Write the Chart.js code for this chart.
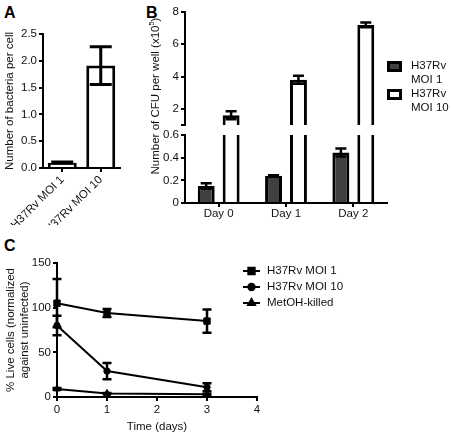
<!DOCTYPE html>
<html>
<head>
<meta charset="utf-8">
<script src="https://cdn.jsdelivr.net/npm/chart.js@4.4.1/dist/chart.umd.min.js"></script>
<style>
  html, body { margin: 0; padding: 0; background: #fff; }
  body { width: 451px; height: 435px; position: relative; overflow: hidden; font-family: "Liberation Sans", Arial, sans-serif; }
  canvas { position: absolute; }
  .letter { position: absolute; font-weight: bold; font-size: 16px; line-height: 16px; color: #000; }
</style>
</head>
<body>
<div class="letter" style="left:4px;top:5px">A</div>
<div class="letter" style="left:146px;top:5px">B</div>
<div class="letter" style="left:4px;top:238px">C</div>
<canvas id="chartA" width="135" height="225" style="left:0;top:0"></canvas>
<canvas id="chartBUpper" width="311" height="225" style="left:140px;top:0"></canvas>
<canvas id="chartBLower" width="311" height="225" style="left:140px;top:0"></canvas>
<canvas id="chartC" width="451" height="200" style="left:0;top:235px"></canvas>
<script>
// panel A
const aLabels = ["H37Rv MOI 1", "H37Rv MOI 10"];
const aMeans = [0.1, 1.91];
const aErrors = [0.01, 0.35];
const aTicks = [0, 0.5, 1, 1.5, 2, 2.5];
const aTickLabels = ["0.0", "0.5", "1.0", "1.5", "2.0", "2.5"];

// panel B (broken y axis)
const bDays = ["Day 0", "Day 1", "Day 2"];
const bSeries = ["H37Rv MOI 1", "H37Rv MOI 10"];
const bMoi1 = [0.15, 0.24, 0.445];
const bMoi1Err = [0.025, 0.005, 0.035];
const bMoi10 = [1.6, 3.8, 7.2];
const bMoi10Err = [0.25, 0.25, 0.15];
const bUpperTicks = [1, 2, 4, 6, 8];
const bUpperLabels = ["", "2", "4", "6", "8"];
const bLowerTicks = [0, 0.2, 0.4, 0.6];
const bLowerLabels = ["0", "0.2", "0.4", "0.6"];

// panel C
const cDays = [0, 1, 3];
const cSeries = ["H37Rv MOI 1", "H37Rv MOI 10", "MetOH-killed"];
const cMoi1 = [105, 94, 85];
const cMoi1Err = [27, 4.5, 13];
const cMoi10 = [80, 29, 11];
const cMoi10Err = [11, 9, 4.5];
const cKilled = [9, 4, 3];
const cKilledErr = [1, 0.5, 0.5];
const cXTicks = [0, 1, 2, 3, 4];
const cYTicks = [0, 50, 100, 150];

const fontFamily = "'Liberation Sans', Arial, sans-serif";
const fontSize = 11.5;
const ink = "#111";
const dark = "#404040";

Chart.defaults.font.family = fontFamily;
Chart.defaults.font.size = fontSize;
Chart.defaults.color = ink;
Chart.defaults.animation = false;
Chart.defaults.responsive = false;
Chart.defaults.plugins.legend.display = false;
Chart.defaults.plugins.tooltip.enabled = false;

const errorBars = {
  id: "errorBars",
  afterDatasetsDraw(chart, args, opts) {
    const ctx = chart.ctx;
    chart.data.datasets.forEach((ds, i) => {
      if (!ds.errors) return;
      const meta = chart.getDatasetMeta(i);
      const yScale = chart.scales[meta.yAxisID];
      ctx.save();
      ctx.strokeStyle = "#000";
      ctx.lineWidth = opts.width;
      meta.data.forEach((el, j) => {
        const raw = ds.data[j];
        const value = typeof raw === "object" ? raw.y : raw;
        const err = ds.errors[j];
        if (err == null || value > yScale.max || value < yScale.min) return;
        const top = yScale.getPixelForValue(value + err);
        const bottom = yScale.getPixelForValue(value - err);
        ctx.beginPath();
        ctx.moveTo(el.x, top);
        ctx.lineTo(el.x, bottom);
        ctx.moveTo(el.x - opts.cap, top);
        ctx.lineTo(el.x + opts.cap, top);
        ctx.moveTo(el.x - opts.cap, bottom);
        ctx.lineTo(el.x + opts.cap, bottom);
        ctx.stroke();
      });
      ctx.restore();
    });
  },
};

function axisStyle() {
  return {
    grid: { display: true, drawOnChartArea: false, offset: false, tickLength: 4, color: "#000", lineWidth: 2 },
    border: { display: true, color: "#000", width: 2 },
  };
}

function fixedTicks(values, labels) {
  return {
    afterBuildTicks: (scale) => { scale.ticks = values.map((v) => ({ value: v })); },
    ticks: { callback: (value) => labels[values.indexOf(value)], padding: 2, color: ink },
  };
}

new Chart(document.getElementById("chartA"), {
  type: "bar",
  data: {
    labels: aLabels,
    datasets: [{
      data: aMeans,
      errors: aErrors,
      backgroundColor: "#fff",
      borderColor: "#000",
      borderWidth: 3,
      borderSkipped: "start",
      categoryPercentage: 0.8,
      barPercentage: 0.94,
    }],
  },
  options: {
    layout: { padding: { top: 34, right: 15, left: 0, bottom: 0 } },
    plugins: { errorBars: { width: 3, cap: 11 } },
    scales: {
      x: {
        ...axisStyle(),
        ticks: { minRotation: 45, maxRotation: 45, padding: 1, color: ink, autoSkip: false },
        afterFit: (s) => { s.height = 57; },
      },
      y: {
        min: 0,
        max: 2.5,
        ...axisStyle(),
        ...fixedTicks(aTicks, aTickLabels),
        title: { display: true, text: "Number of bacteria per cell", padding: { top: 3, bottom: 0 }, color: ink },
        afterFit: (s) => { s.width = 43; },
      },
    },
  },
  plugins: [errorBars],
});

function bDatasets() {
  return [
    { label: bSeries[0], data: bMoi1, errors: bMoi1Err, backgroundColor: dark },
    { label: bSeries[1], data: bMoi10, errors: bMoi10Err, backgroundColor: "#fff" },
  ].map((ds) => ({
    ...ds,
    borderColor: "#000",
    borderWidth: 3,
    borderSkipped: "start",
    categoryPercentage: 0.74,
    barPercentage: 0.68,
    clip: 0,
  }));
}

const bLegend = {
  id: "bLegend",
  afterDraw(chart) {
    const ctx = chart.ctx;
    const x = chart.chartArea.right;
    const rows = [61, 89];
    ctx.save();
    ctx.font = `${fontSize}px ${fontFamily}`;
    ctx.textBaseline = "middle";
    chart.data.datasets.forEach((ds, i) => {
      const y = rows[i];
      ctx.fillStyle = ds.backgroundColor;
      ctx.fillRect(x + 1.5, y + 1.5, 12, 8);
      ctx.strokeStyle = "#000";
      ctx.lineWidth = 3;
      ctx.strokeRect(x + 1.5, y + 1.5, 12, 8);
      const cut = ds.label.indexOf(" ");
      ctx.fillStyle = ink;
      ctx.fillText(ds.label.slice(0, cut), x + 24, y + 5);
      ctx.fillText(ds.label.slice(cut + 1), x + 24, y + 19);
    });
    ctx.restore();
  },
};

const bTitle = {
  id: "bTitle",
  afterDraw(chart) {
    const ctx = chart.ctx;
    const main = "Number of CFU per well (x10";
    ctx.save();
    ctx.translate(16, 96);
    ctx.rotate(-Math.PI / 2);
    ctx.fillStyle = ink;
    ctx.textBaseline = "middle";
    ctx.font = `${fontSize}px ${fontFamily}`;
    const w1 = ctx.measureText(main).width;
    const w3 = ctx.measureText(")").width;
    ctx.font = `7.5px ${fontFamily}`;
    const w2 = ctx.measureText("5").width;
    const start = -(w1 + w2 + w3) / 2;
    ctx.fillText("5", start + w1, -4);
    ctx.font = `${fontSize}px ${fontFamily}`;
    ctx.fillText(main, start, 0);
    ctx.fillText(")", start + w1 + w2, 0);
    ctx.restore();
  },
};

new Chart(document.getElementById("chartBUpper"), {
  type: "bar",
  data: { labels: bDays, datasets: bDatasets() },
  options: {
    layout: { padding: { top: 12, right: 64, left: 0, bottom: 100 } },
    plugins: { errorBars: { width: 2.5, cap: 5.5 } },
    scales: {
      x: { display: false },
      y: {
        min: 1,
        max: 8,
        ...axisStyle(),
        ...fixedTicks(bUpperTicks, bUpperLabels),
        afterFit: (s) => { s.width = 45; },
      },
    },
  },
  plugins: [errorBars, bLegend],
});

new Chart(document.getElementById("chartBLower"), {
  type: "bar",
  data: { labels: bDays, datasets: bDatasets() },
  options: {
    layout: { padding: { top: 135, right: 64, left: 0, bottom: 0 } },
    plugins: { errorBars: { width: 2.5, cap: 5.5 } },
    scales: {
      x: {
        ...axisStyle(),
        ticks: { padding: 0, color: ink, maxRotation: 0 },
        afterFit: (s) => { s.height = 22; },
      },
      y: {
        min: 0,
        max: 0.6,
        ...axisStyle(),
        ...fixedTicks(bLowerTicks, bLowerLabels),
        afterFit: (s) => { s.width = 45; },
      },
    },
  },
  plugins: [errorBars, bTitle],
});

const cLegend = {
  id: "cLegend",
  afterDraw(chart) {
    const ctx = chart.ctx;
    const rows = [36, 52, 68];
    ctx.save();
    ctx.font = `${fontSize}px ${fontFamily}`;
    ctx.textBaseline = "middle";
    chart.data.datasets.forEach((ds, i) => {
      const y = rows[i];
      ctx.strokeStyle = "#000";
      ctx.fillStyle = "#000";
      ctx.lineWidth = 2;
      ctx.beginPath();
      ctx.moveTo(243, y);
      ctx.lineTo(260, y);
      ctx.stroke();
      Chart.helpers.drawPoint(ctx, { pointStyle: ds.pointStyle, radius: ds.pointRadius, rotation: 0, borderWidth: 1 }, 251.5, y);
      ctx.fillStyle = ink;
      ctx.fillText(ds.label, 267, y);
    });
    ctx.restore();
  },
};

function cSeriesData(values) {
  return cDays.map((day, i) => ({ x: day, y: values[i] }));
}

new Chart(document.getElementById("chartC"), {
  type: "line",
  data: {
    datasets: [
      { label: cSeries[0], data: cSeriesData(cMoi1), errors: cMoi1Err, pointStyle: "rect", pointRadius: 4.5 },
      { label: cSeries[1], data: cSeriesData(cMoi10), errors: cMoi10Err, pointStyle: "circle", pointRadius: 3.2 },
      { label: cSeries[2], data: cSeriesData(cKilled), errors: cKilledErr, pointStyle: "triangle", pointRadius: 4 },
    ].map((ds) => ({
      ...ds,
      borderColor: "#000",
      backgroundColor: "#000",
      borderWidth: 2,
      pointBorderWidth: 1,
      tension: 0,
      clip: false,
    })),
  },
  options: {
    layout: { padding: { top: 28, right: 194, left: 0, bottom: 0 } },
    plugins: { errorBars: { width: 2.5, cap: 4.5 } },
    scales: {
      x: {
        type: "linear",
        min: 0,
        max: 4,
        ...axisStyle(),
        ...fixedTicks(cXTicks, cXTicks.map(String)),
        title: { display: true, text: "Time (days)", padding: { top: 0, bottom: 1 }, color: ink },
        afterFit: (s) => { s.height = 38; },
      },
      y: {
        min: 0,
        max: 150,
        ...axisStyle(),
        ...fixedTicks(cYTicks, cYTicks.map(String)),
        title: { display: true, text: ["% Live cells (normalized", "against uninfected)"], padding: { top: 4, bottom: 0 }, color: ink },
        afterFit: (s) => { s.width = 57; },
      },
    },
  },
  plugins: [errorBars, cLegend],
});
</script>
</body>
</html>
